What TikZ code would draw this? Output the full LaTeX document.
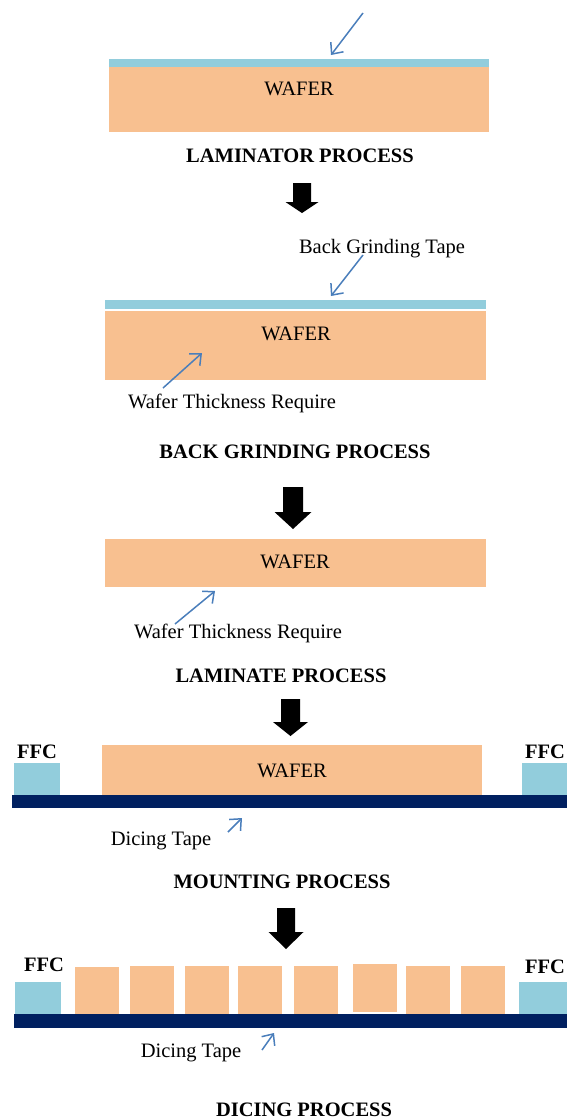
\documentclass[tikz,border=0pt]{standalone}
\usepackage{fontspec}
\setmainfont{Liberation Serif}
\usetikzlibrary{arrows.meta}
\definecolor{waferorange}{RGB}{248,192,144}
\definecolor{tapeblue}{RGB}{146,205,220}
\definecolor{dicingnavy}{RGB}{0,32,96}
\definecolor{calloutblue}{RGB}{74,126,187}
\tikzstyle{blk}=[inner sep=0pt,outer sep=0pt,draw=none]
\tikzstyle{wafer}=[blk,fill=waferorange]
\tikzstyle{tape}=[blk,fill=tapeblue]
\tikzstyle{dtape}=[blk,fill=dicingnavy]
\tikzstyle{txt}=[inner sep=0pt,anchor=base,font=\fontsize{20.5}{24}\selectfont]
\tikzstyle{stage}=[txt,font=\fontsize{20.5}{24}\selectfont\bfseries]
\tikzstyle{callout}=[calloutblue,line width=1.5pt,-{Straight Barb[length=9pt,width=16pt]}]

\begin{document}
\begin{tikzpicture}[x=1pt,y=-1pt]
    \useasboundingbox (0,0) rectangle (569,1119);
    % laminator
    \node[tape,minimum width=380pt,minimum height=8pt] (tape1) at (299,63) {};
    \node[wafer,minimum width=380pt,minimum height=65pt] (wafer1) at (299,99.5) {};
    \node[txt] (w1) at (299,95) {WAFER};
    \node[stage] (s1) at (300,162) {LAMINATOR PROCESS};
    \coordinate (c1s) at (363,13); \coordinate (c1e) at (331,55);
    \draw[callout] (c1s) -- (c1e);
    % back grinding
    \node[txt] (bgt) at (382,253) {Back Grinding Tape};
    \node[tape,minimum width=381pt,minimum height=9pt] (tape2) at (295.5,304.5) {};
    \node[wafer,minimum width=381pt,minimum height=69pt] (wafer2) at (295.5,345.5) {};
    \node[txt] (w2) at (296,340) {WAFER};
    \node[txt] (wtr2) at (232,408) {Wafer Thickness Require};
    \node[stage] (s2) at (295,458) {BACK GRINDING PROCESS};
    \coordinate (c2s) at (363,255); \coordinate (c2e) at (331,296);
    \coordinate (c3s) at (163,388); \coordinate (c3e) at (202,353);
    \draw[callout] (c2s) -- (c2e);
    \draw[callout] (c3s) -- (c3e);
    % laminate
    \node[wafer,minimum width=381pt,minimum height=48pt] (wafer3) at (295.5,563) {};
    \node[txt] (w3) at (295,568) {WAFER};
    \node[txt] (wtr3) at (238,638) {Wafer Thickness Require};
    \node[stage] (s3) at (281,682) {LAMINATE PROCESS};
    \coordinate (c4s) at (175,624); \coordinate (c4e) at (215,591);
    \draw[callout] (c4s) -- (c4e);
    % mounting
    \node[tape,minimum width=46pt,minimum height=32pt] (ffc1) at (37,779) {};
    \node[tape,minimum width=45pt,minimum height=32pt] (ffc2) at (544.5,779) {};
    \node[wafer,minimum width=380pt,minimum height=50pt] (wafer4) at (292,770) {};
    \node[dtape,minimum width=555pt,minimum height=13pt] (dt4) at (289.5,801.5) {};
    \node[stage] at (37,758) {FFC};
    \node[stage] at (545,758) {FFC};
    \node[txt] (w4) at (292,777) {WAFER};
    \node[txt] (dtl4) at (161,845) {Dicing Tape};
    \node[stage] (s4) at (282,888) {MOUNTING PROCESS};
    \coordinate (c5s) at (228,832); \coordinate (c5e) at (242,818);
    \draw[callout] (c5s) -- (c5e);
    % dicing
    \node[tape,minimum width=46pt,minimum height=32pt] (ffc3) at (38,998) {};
    \node[tape,minimum width=48pt,minimum height=32pt] (ffc4) at (543,998) {};
    \foreach \n/\x/\y in {1/96.5/991, 2/152/990, 3/207/990, 4/260/990, 5/316/990, 6/374.5/988, 7/428/990, 8/482.5/990}
        \node[wafer,minimum width=44pt,minimum height=48pt] (die\n) at (\x,\y) {};
    \node[dtape,minimum width=553pt,minimum height=14pt] (dt5) at (290.5,1021) {};
    \node[stage] at (44,971) {FFC};
    \node[stage] at (545,973) {FFC};
    \node[txt] (dtl5) at (191,1057) {Dicing Tape};
    \node[stage] (s5) at (304,1116) {DICING PROCESS};
    \coordinate (c6s) at (262,1050); \coordinate (c6e) at (274,1033);
    \draw[callout] (c6s) -- (c6e);
    % block arrows between steps
    \foreach \c/\t/\h/\p/\s/\w in {302/183/202/213/9/16.5, 293/487/512/529/10/18.5, 290.5/699/722/736/9.5/17.5, 286/908/932/949/9/17.5}
        \fill (\c-\s,\t) -- (\c+\s,\t) -- (\c+\s,\h) -- (\c+\w,\h) -- (\c,\p) -- (\c-\w,\h) -- (\c-\s,\h) -- cycle;
\end{tikzpicture}
\end{document}
